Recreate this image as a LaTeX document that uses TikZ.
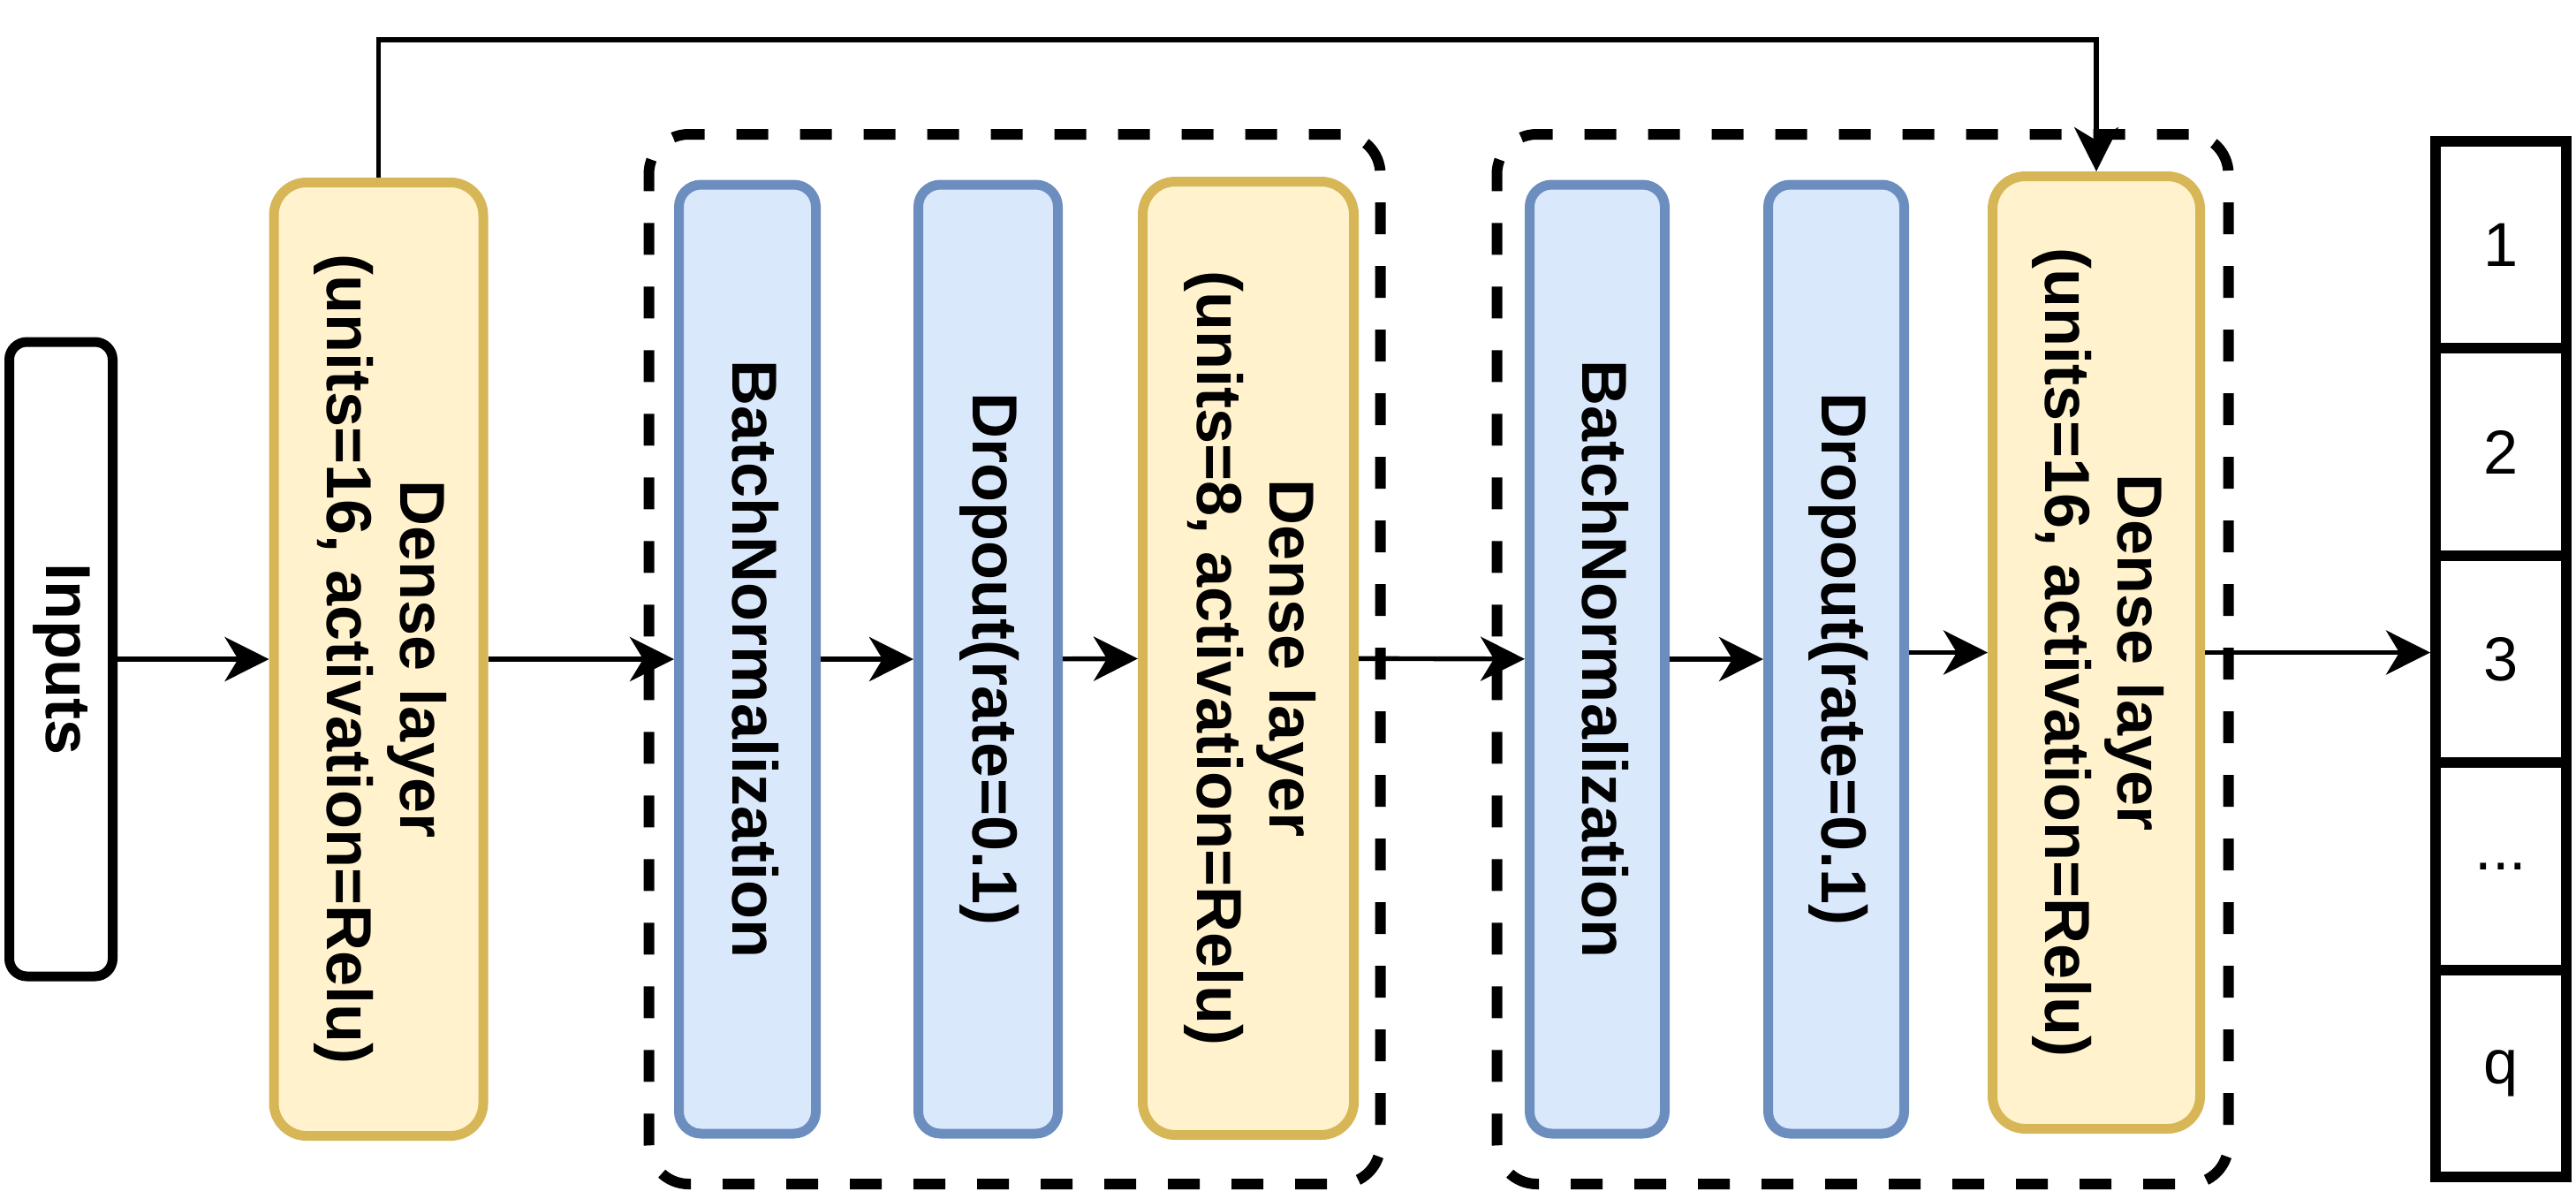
\documentclass[tikz,border=0pt]{standalone}
\usepackage{fontspec}
\setmainfont{Liberation Sans}
\usetikzlibrary{arrows.meta}
\definecolor{densefill}{HTML}{FFF2CC}
\definecolor{densedraw}{HTML}{D6B656}
\definecolor{normfill}{HTML}{DAE8FC}
\definecolor{normdraw}{HTML}{6C8EBF}
\newcommand{\vtext}[1]{\rotatebox{-90}{\begin{tabular}{@{}c@{}}#1\end{tabular}}}

\begin{document}
\begin{tikzpicture}[
  font=\fontsize{20.5}{23.5}\selectfont\bfseries,
  layer/.style={draw, line width=0.11cm, inner sep=0pt, minimum height=10.79cm},
  dense/.style={layer, fill=densefill, draw=densedraw, minimum width=2.37cm, rounded corners=0.37cm},
  norm/.style={layer, fill=normfill, draw=normdraw, minimum width=1.55cm, minimum height=10.74cm, rounded corners=0.25cm},
  group/.style={draw, line width=0.12cm, dash pattern=on 0.36cm off 0.36cm, minimum width=8.28cm, minimum height=11.88cm, rounded corners=0.45cm},
  cell/.style={draw, line width=0.12cm, minimum width=1.48cm, minimum height=2.344cm, font=\fontsize{20}{24}\selectfont},
  arr/.style={line width=0.054cm, -{Stealth[length=0.5cm, width=0.5cm, inset=0.15cm]}}
]
\useasboundingbox (0,0) rectangle (29.16,-13.56);
% dashed blocks
\node[group] (grp1) at (11.485,-7.46){};
\node[group] (grp2) at (21.085,-7.46){};
% layers
\node[draw, line width=0.11cm, rounded corners=0.2cm, minimum width=1.17cm, minimum height=7.18cm] (inp) at (0.69,-7.46){\vtext{Inputs}};
\node[dense] (dns1) at (4.285,-7.46){\vtext{Dense layer\\(units=16, activation=Relu)}};
\node[norm] (bn1) at (8.46,-7.46){\vtext{BatchNormalization}};
\node[norm, minimum width=1.58cm] (drp1) at (11.185,-7.46){\vtext{Dropout(rate=0.1)}};
\node[dense, minimum width=2.39cm] (dns2) at (14.13,-7.45){\vtext{Dense layer\\(units=8, activation=Relu)}};
\node[norm, minimum width=1.53cm] (bn2) at (18.08,-7.46){\vtext{BatchNormalization}};
\node[norm, minimum width=1.54cm] (drp2) at (20.785,-7.46){\vtext{Dropout(rate=0.1)}};
\node[dense, minimum width=2.35cm, minimum height=10.78cm] (dns3) at (23.73,-7.385){\vtext{Dense layer\\(units=16, activation=Relu)}};
% output
\node[cell] (out1) at (28.31,-2.772){1};
\node[cell] (out2) at (28.31,-5.116){2};
\node[cell] (out3) at (28.31,-7.46){3};
\node[cell] (out4) at (28.31,-9.804){...};
\node[cell] (out5) at (28.31,-12.148){q};
% connections
\draw[arr] (inp) -- (dns1);
\draw[arr] (dns1) -- (bn1);
\draw[arr] (bn1) -- (drp1);
\draw[arr] (drp1) -- (dns2);
\draw[arr] (dns2) -- (bn2);
\draw[arr] (bn2) -- (drp2);
\draw[arr] (drp2.east |- dns3) -- (dns3);
\draw[arr] (dns3) -- (dns3 -| out3.west);
\draw[arr] (dns1.north) -- ++(0,1.56) -| (dns3.north);
\end{tikzpicture}
\end{document}
